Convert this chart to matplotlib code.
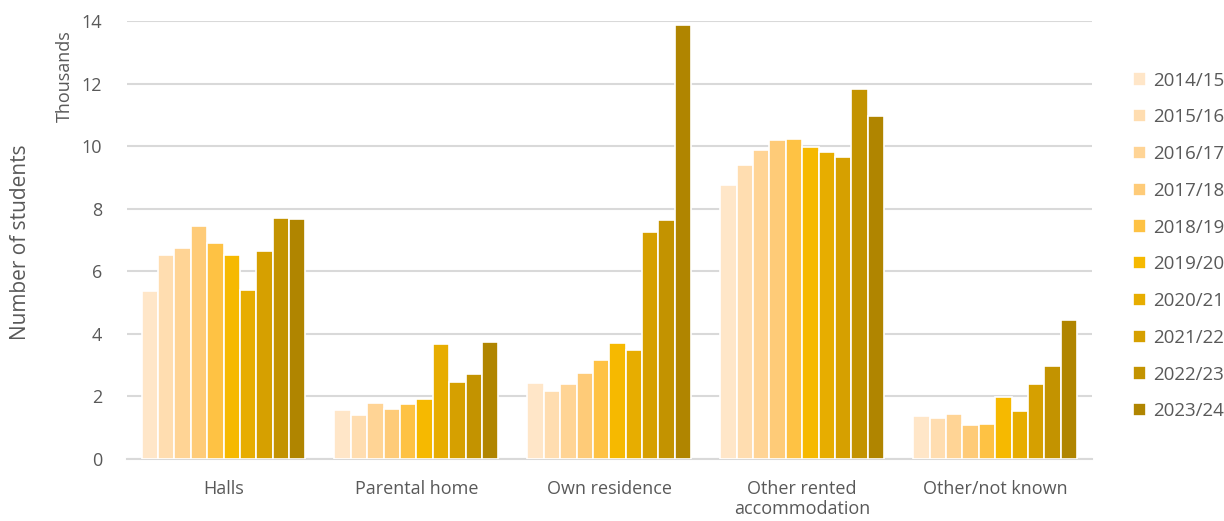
import numpy as np
import matplotlib
matplotlib.use("Agg")
import matplotlib.pyplot as plt

categories = ["Halls", "Parental home", "Own residence",
              "Other rented\naccommodation", "Other/not known"]
years = ["2014/15", "2015/16", "2016/17", "2017/18", "2018/19",
         "2019/20", "2020/21", "2021/22", "2022/23", "2023/24"]

# thousands of students, one list per category, ordered by year
halls = [5.38, 6.52, 6.74, 7.46, 6.90, 6.52, 5.40, 6.66, 7.69, 7.66]
parental_home = [1.57, 1.42, 1.79, 1.61, 1.77, 1.92, 3.69, 2.45, 2.72, 3.74]
own_residence = [2.44, 2.18, 2.41, 2.74, 3.16, 3.72, 3.47, 7.25, 7.64, 13.87]
other_rented = [8.76, 9.39, 9.88, 10.19, 10.23, 9.97, 9.82, 9.66, 11.83, 10.97]
other_unknown = [1.38, 1.32, 1.44, 1.09, 1.13, 1.97, 1.52, 2.40, 2.98, 4.43]

colours = ["#FFE6C8", "#FFDDB0", "#FFD495", "#FECB78", "#FEC244",
           "#F6B900", "#E7AD00", "#D6A000", "#C39300", "#B08500"]

values = np.array([halls, parental_home, own_residence, other_rented, other_unknown])

plt.rcParams["font.family"] = ["Open Sans", "DejaVu Sans"]
grey = "#595959"

fig = plt.figure(figsize=(12.24, 5.21), dpi=100)
ax = fig.add_axes([0.1038, 0.119, 0.788, 0.8407])

x = np.arange(len(categories))
slot = 0.085
for i, year in enumerate(years):
    offs = (i - (len(years) - 1) / 2) * slot
    ax.bar(x + offs, values[:, i], width=slot, color=colours[i],
           edgecolor="white", linewidth=1.2, label=year, zorder=3)

ax.set_xlim(-0.5, len(categories) - 0.5)
ax.set_ylim(0, 14)
ax.set_yticks(range(0, 15, 2))
ax.yaxis.grid(True, color="#D9D9D9", linewidth=1.5, zorder=0)
ax.set_axisbelow(True)
for s in ["left", "right", "top"]:
    ax.spines[s].set_visible(False)
ax.spines["bottom"].set_color("#D9D9D9")
ax.spines["bottom"].set_linewidth(1.5)
ax.tick_params(axis="both", length=0, colors=grey, labelsize=13)
ax.tick_params(axis="y", pad=18)
ax.tick_params(axis="x", pad=15)
ax.set_xticks(x)
ax.set_xticklabels(categories, linespacing=1.15)

fig.text(0.017, 0.535, "Number of students", rotation=90, ha="center",
         va="center", color=grey, fontsize=15)
fig.text(0.053, 0.854, "Thousands", rotation=90, ha="center", va="center",
         color=grey, fontsize=13)

leg = fig.legend(loc="upper left", bbox_to_anchor=(0.912, 0.895), frameon=False,
                 fontsize=13.5, labelcolor=grey, handlelength=0.7,
                 handleheight=0.7, handletextpad=0.35, labelspacing=1.0)

fig.savefig("out.png", dpi=100)
